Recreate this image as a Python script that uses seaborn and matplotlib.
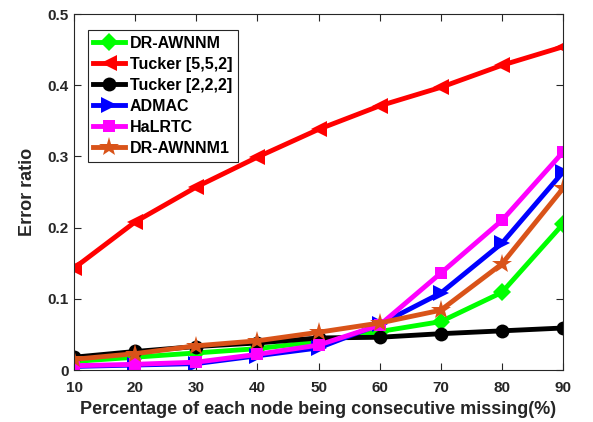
import numpy as np
import pandas as pd
import matplotlib
matplotlib.use("Agg")
import matplotlib.pyplot as plt
import seaborn as sns

missing_pct = [10, 20, 30, 40, 50, 60, 70, 80, 90]
dr_awnnm = [0.012, 0.018, 0.024, 0.030, 0.040, 0.054, 0.068, 0.109, 0.205]
tucker_552 = [0.143, 0.208, 0.257, 0.299, 0.338, 0.371, 0.397, 0.428, 0.454]
tucker_222 = [0.018, 0.026, 0.033, 0.038, 0.045, 0.046, 0.051, 0.055, 0.059]
admac = [0.005, 0.007, 0.009, 0.020, 0.031, 0.064, 0.108, 0.178, 0.278]
halrtc = [0.006, 0.008, 0.011, 0.022, 0.035, 0.063, 0.136, 0.210, 0.306]
dr_awnnm1 = [0.015, 0.023, 0.034, 0.041, 0.053, 0.066, 0.084, 0.149, 0.255]

methods = ["DR-AWNNM", "Tucker [5,5,2]", "Tucker [2,2,2]", "ADMAC", "HaLRTC", "DR-AWNNM1"]
series = [dr_awnnm, tucker_552, tucker_222, admac, halrtc, dr_awnnm1]
colors = ["#00FF00", "#FF0000", "#000000", "#0000FF", "#FF00FF", "#D95319"]
markers = ["D", "<", "o", ">", "s", "*"]
sizes = [9, 12, 10, 12, 9, 15]

df = pd.DataFrame({
    "pct": np.tile(missing_pct, len(methods)),
    "err": np.concatenate(series),
    "method": np.repeat(methods, len(missing_pct)),
})

plt.rcParams["font.family"] = ["Liberation Sans", "DejaVu Sans"]
plt.rcParams["font.weight"] = "bold"

fig = plt.figure(figsize=(5.93, 4.22), dpi=100)
ax = fig.add_axes([0.1248, 0.1232, 0.8246, 0.8436])

sns.lineplot(data=df, x="pct", y="err", hue="method", style="method",
             hue_order=methods, style_order=methods,
             palette=dict(zip(methods, colors)),
             markers=dict(zip(methods, markers)), dashes=False,
             linewidth=3.5, markeredgewidth=0, ax=ax)

for line, ms in zip(ax.get_lines(), sizes):
    line.set_markersize(ms)

ax.set_xlim(10, 90)
ax.set_ylim(0, 0.5)
ax.set_xticks(missing_pct)
ax.set_yticks([0, 0.1, 0.2, 0.3, 0.4, 0.5])
ax.set_yticklabels(["0", "0.1", "0.2", "0.3", "0.4", "0.5"])
ax.tick_params(direction="in", top=True, right=True, labelsize=11, length=5,
               color="#262626")
ax.tick_params(axis="x", pad=8)
ax.tick_params(axis="y", pad=4)
for lab in ax.get_xticklabels() + ax.get_yticklabels():
    lab.set_fontweight("bold")
    lab.set_color("#262626")
for sp in ax.spines.values():
    sp.set_color("#262626")
    sp.set_linewidth(0.8)

ax.set_xlabel("Percentage of each node being consecutive missing(%)",
              fontsize=13, fontweight="bold", color="#262626", labelpad=4)
ax.set_ylabel("Error ratio", fontsize=13, fontweight="bold", color="#262626",
              labelpad=8)

handles, labels = ax.get_legend_handles_labels()
for h, ms in zip(handles, sizes):
    h.set_markersize(ms)
leg = ax.legend(handles, labels, loc="upper left", bbox_to_anchor=(0.028, 0.955),
                fancybox=False, framealpha=1, edgecolor="#262626",
                prop={"weight": "bold", "size": 11.5}, handlelength=2.0,
                handletextpad=0.3, labelspacing=0.38, borderpad=0.35,
                borderaxespad=0.0)
leg.get_frame().set_linewidth(0.8)

fig.savefig("out.png", dpi=100)
